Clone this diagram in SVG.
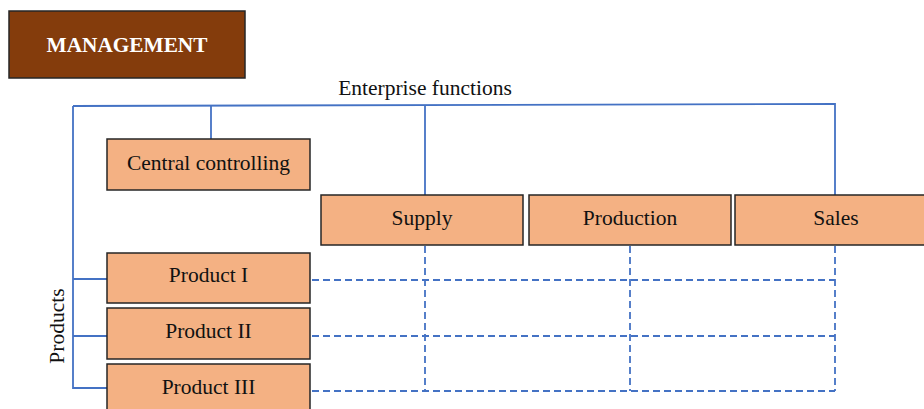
<svg xmlns="http://www.w3.org/2000/svg" width="924" height="409" viewBox="0 0 924 409">
  <style>
    .box { fill: #F4B183; stroke: #262626; stroke-width: 1.5; }
    .lbl { font-family: "Liberation Serif", "Times New Roman", serif; font-size: 21.5px; fill: #111; text-anchor: middle; }
    .solid { fill: none; stroke: #4472C4; stroke-width: 1.8; }
    .dash { fill: none; stroke: #4472C4; stroke-width: 1.8; stroke-dasharray: 7 4; }
  </style>
  <rect width="924" height="409" fill="#ffffff"/>

  <g id="management">
    <rect x="9" y="11" width="236" height="67" fill="#843C0C" stroke="#262626" stroke-width="1.5"/>
    <text x="127" y="51.5" font-family="Liberation Serif, Times New Roman, serif" font-size="21.3" font-weight="bold" fill="#ffffff" text-anchor="middle">MANAGEMENT</text>
  </g>

  <text class="lbl" x="425" y="95">Enterprise functions</text>
  <text class="lbl" transform="translate(64 326) rotate(-90)">Products</text>

  <g id="connectors">
    <!-- enterprise function bus -->
    <path class="solid" d="M73 106 L835 104 L835 195"/>
    <path class="solid" d="M211 106 V139"/>
    <path class="solid" d="M425 106 V195"/>
    <!-- product bus -->
    <path class="solid" d="M73 106 V388 H107"/>
    <path class="solid" d="M73 279 H107"/>
    <path class="solid" d="M73 336 H107"/>
    <!-- matrix -->
    <path class="dash" d="M425 246 V391"/>
    <path class="dash" d="M630 246 V391"/>
    <path class="dash" d="M835 246 V391"/>
    <path class="dash" d="M312 280 H835"/>
    <path class="dash" d="M312 336 H835"/>
    <path class="dash" d="M312 391 H835"/>
  </g>

  <g id="central-controlling">
    <rect class="box" x="107" y="139" width="203" height="51"/>
    <text class="lbl" x="208.5" y="169.5">Central controlling</text>
  </g>
  <g id="supply">
    <rect class="box" x="321" y="195" width="202" height="50"/>
    <text class="lbl" x="422" y="224.5">Supply</text>
  </g>
  <g id="production">
    <rect class="box" x="529" y="195" width="202" height="50"/>
    <text class="lbl" x="630" y="224.5">Production</text>
  </g>
  <g id="sales">
    <rect class="box" x="735" y="195" width="202" height="50"/>
    <text class="lbl" x="836" y="224.5">Sales</text>
  </g>
  <g id="product-1">
    <rect class="box" x="107" y="253" width="203" height="50"/>
    <text class="lbl" x="208.5" y="281.5">Product I</text>
  </g>
  <g id="product-2">
    <rect class="box" x="107" y="308" width="203" height="51"/>
    <text class="lbl" x="208.5" y="338">Product II</text>
  </g>
  <g id="product-3">
    <rect class="box" x="107" y="364" width="203" height="51"/>
    <text class="lbl" x="208.5" y="393.5">Product III</text>
  </g>
</svg>
